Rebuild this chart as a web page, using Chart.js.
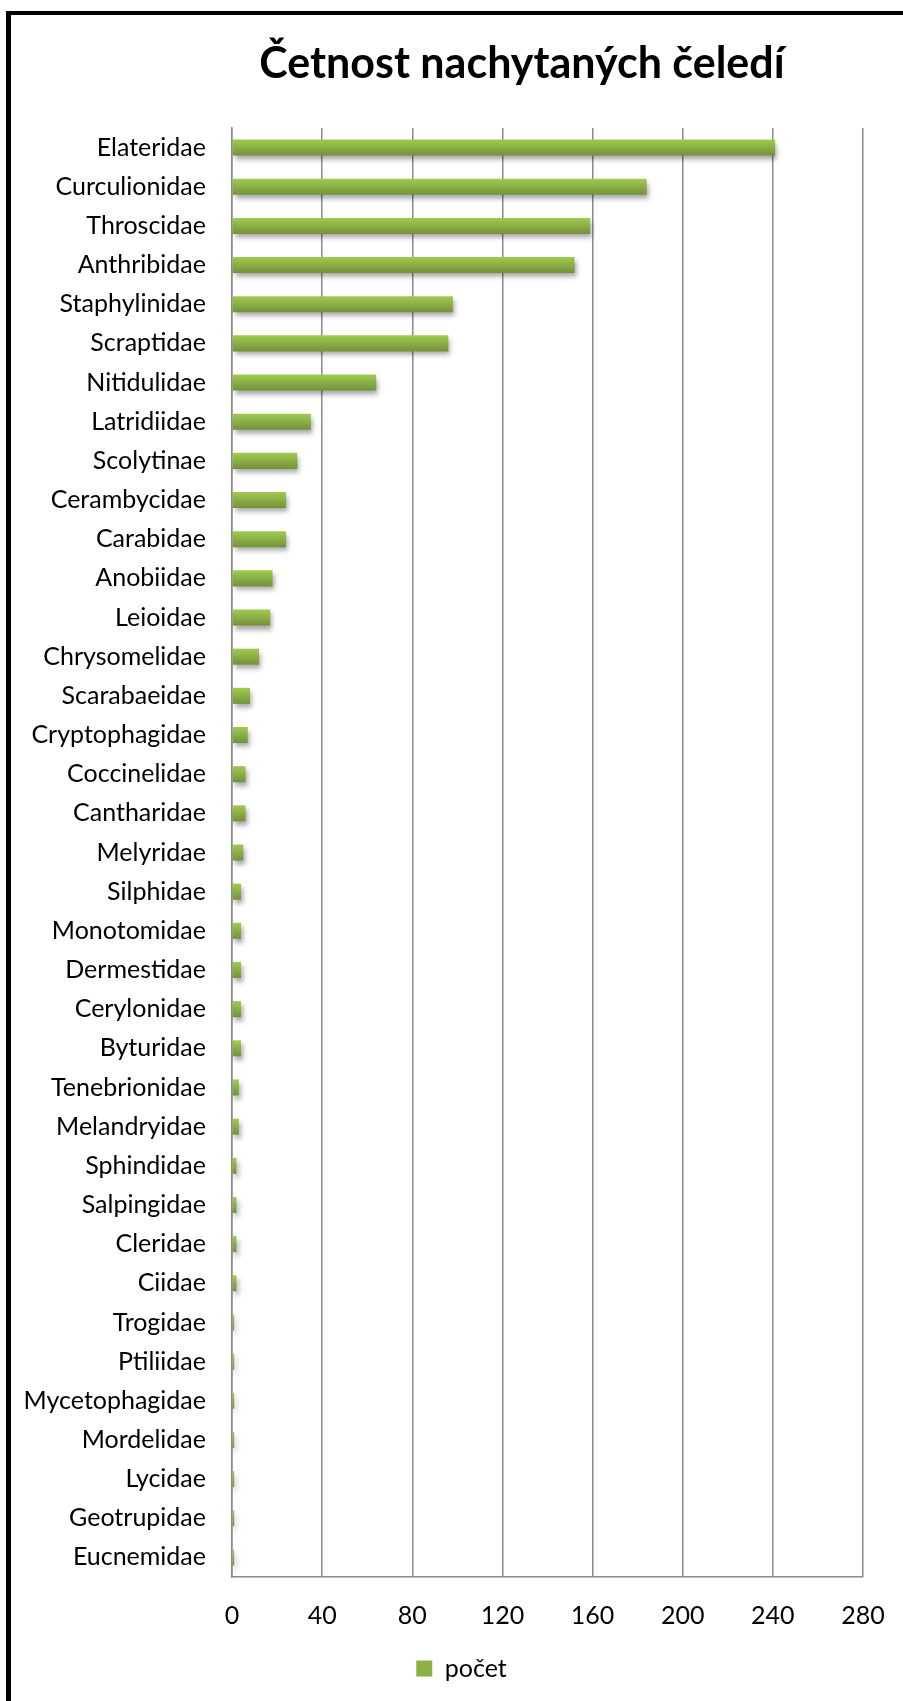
<!DOCTYPE html>
<html lang="cs">
<head>
<meta charset="UTF-8">
<title>Četnost nachytaných čeledí</title>
<script src="https://cdn.jsdelivr.net/npm/chart.js"></script>
<style>
    html, body { margin: 0; padding: 0; background: #fff; overflow: hidden; }
    .wrap { position: relative; width: 903px; height: 1701px; }
    .frame {
        position: absolute; left: 6px; top: 11px; width: 1000px; height: 2000px;
        border-left: 5px solid #000; border-top: 4px solid #000; pointer-events: none;
    }
    canvas { position: absolute; left: 0; top: 0; }
</style>
</head>
<body>
<div class="wrap">
    <canvas id="chart" width="903" height="1701"></canvas>
    <div class="frame"></div>
</div>
<script>
    const chartTitle = 'Četnost nachytaných čeledí';
    const seriesName = 'počet';
    const families = ['Elateridae', 'Curculionidae', 'Throscidae', 'Anthribidae', 'Staphylinidae',
        'Scraptidae', 'Nitidulidae', 'Latridiidae', 'Scolytinae', 'Cerambycidae', 'Carabidae',
        'Anobiidae', 'Leioidae', 'Chrysomelidae', 'Scarabaeidae', 'Cryptophagidae', 'Coccinelidae',
        'Cantharidae', 'Melyridae', 'Silphidae', 'Monotomidae', 'Dermestidae', 'Cerylonidae',
        'Byturidae', 'Tenebrionidae', 'Melandryidae', 'Sphindidae', 'Salpingidae', 'Cleridae',
        'Ciidae', 'Trogidae', 'Ptiliidae', 'Mycetophagidae', 'Mordelidae', 'Lycidae',
        'Geotrupidae', 'Eucnemidae'];
    const counts = [241, 184, 159, 152, 98, 96, 64, 35, 29, 24, 24, 18, 17, 12, 8, 7, 6, 6, 5,
        4, 4, 4, 4, 4, 3, 3, 2, 2, 2, 2, 1, 1, 1, 1, 1, 1, 1];
    const xTicks = [0, 40, 80, 120, 160, 200, 240, 280];

    const FONT = 'Lato';
    const gridGray = '#8a8a8a';

    // green bar with lighter top edge, like the office chart
    function barFill(ctx) {
        const chart = ctx.chart;
        const y = chart.scales.y;
        if (!y || ctx.type !== 'data') return '#8cb043';
        const c = y.getPixelForValue(ctx.dataIndex);
        const g = chart.ctx.createLinearGradient(0, c - 8, 0, c + 8);
        g.addColorStop(0, '#a0cb50');
        g.addColorStop(1, '#75913b');
        return g;
    }

    const barShadow = {
        id: 'barShadow',
        beforeDatasetsDraw(chart) {
            const c = chart.ctx;
            c.save();
            c.shadowColor = 'rgba(0,0,0,0.35)';
            c.shadowBlur = 5;
            c.shadowOffsetX = 2;
            c.shadowOffsetY = 4;
        },
        afterDatasetsDraw(chart) {
            chart.ctx.restore();
        }
    };

    const titleText = {
        id: 'titleText',
        afterDraw(chart) {
            const c = chart.ctx;
            c.save();
            c.font = 'bold 43px ' + FONT;
            c.fillStyle = '#000';
            c.textAlign = 'center';
            c.textBaseline = 'alphabetic';
            c.fillText(chartTitle, 522, 78);
            c.restore();
        }
    };

    new Chart(document.getElementById('chart'), {
        type: 'bar',
        data: {
            labels: families,
            datasets: [{
                label: seriesName,
                data: counts,
                yAxisID: 'y',
                backgroundColor: barFill,
                borderWidth: 0,
                barPercentage: 0.41,
                categoryPercentage: 1.0
            }]
        },
        options: {
            indexAxis: 'y',
            responsive: false,
            animation: false,
            devicePixelRatio: 1,
            layout: { padding: { top: 128, left: 20, right: 0, bottom: 10 } },
            plugins: {
                title: { display: false },
                tooltip: { enabled: false },
                legend: {
                    position: 'bottom',
                    labels: {
                        boxWidth: 16,
                        boxHeight: 16,
                        color: '#000',
                        font: { family: FONT, size: 25 },
                        generateLabels: () => [{
                            text: seriesName, fillStyle: '#8cb043', strokeStyle: '#8cb043',
                            lineWidth: 0, hidden: false, datasetIndex: 0
                        }]
                    }
                }
            },
            scales: {
                x: {
                    min: xTicks[0],
                    max: xTicks[xTicks.length - 1],
                    // invisible tick marks push the labels down without widening the side padding
                    grid: { color: gridGray, lineWidth: 1.5, drawTicks: true, tickLength: 24, tickColor: 'rgba(0,0,0,0)' },
                    border: { color: gridGray, width: 1.5 },
                    ticks: {
                        stepSize: xTicks[1] - xTicks[0],
                        color: '#000',
                        font: { family: FONT, size: 25 },
                        padding: 0
                    },
                    afterFit: s => { s.height = 69; }
                },
                y: {
                    grid: { display: false, drawTicks: false },
                    border: { color: gridGray, width: 1.5 },
                    ticks: {
                        color: '#000',
                        font: { family: FONT, size: 25 },
                        padding: 26,
                        autoSkip: false
                    },
                    afterFit: s => { s.width = 212; }
                },
                // empty strip on the right so the legend centres like the original
                gap: {
                    type: 'category',
                    position: 'right',
                    grid: { display: false, drawTicks: false },
                    border: { display: false },
                    ticks: { display: false },
                    afterFit: s => { s.width = 40; }
                }
            }
        },
        plugins: [barShadow, titleText]
    });
</script>
</body>
</html>
